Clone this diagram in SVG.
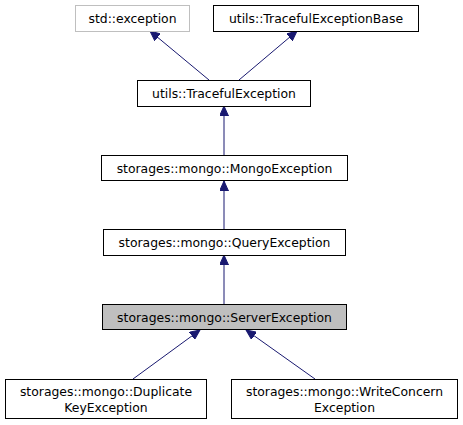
<svg xmlns="http://www.w3.org/2000/svg" width="463" height="425" viewBox="0 0 463 425">
<style>
.n rect{fill:#fff;stroke:#000;stroke-width:1}
.g rect{stroke:#bfbfbf}
.h rect{fill:#bfbfbf}
text{font-family:"DejaVu Sans",sans-serif;font-size:12.4px;text-anchor:middle;fill:#000}
.e path{fill:none;stroke:#191970;stroke-width:1;marker-end:url(#a)}
</style>
<defs>
<marker id="a" markerUnits="userSpaceOnUse" markerWidth="11" markerHeight="9" refX="10" refY="4.5" orient="auto">
<path d="M0,0 L10,4.5 L0,9 z" fill="#191970" stroke="#191970" stroke-width="1"/>
</marker>
</defs>
<rect width="463" height="425" fill="#fff"/>
<g class="e">
<path d="M209,80 L150,31"/>
<path d="M239,80 L297,31"/>
<path d="M224,155 L224,106"/>
<path d="M224,229 L224,181"/>
<path d="M224,304 L224,255"/>
<path d="M133,379 L200,330"/>
<path d="M315,379 L246,330"/>
</g>
<g id="std_exception" class="n g"><rect x="75.5" y="5.5" width="114" height="26"/><text x="132.5" y="22.5">std::exception</text></g>
<g id="TracefulExceptionBase" class="n"><rect x="213.5" y="5.5" width="205" height="26"/><text x="316" y="22.5">utils::TracefulExceptionBase</text></g>
<g id="TracefulException" class="n"><rect x="137.5" y="80.5" width="173" height="26"/><text x="224" y="97.5">utils::TracefulException</text></g>
<g id="MongoException" class="n"><rect x="101.5" y="155.5" width="246" height="25"/><text x="224.5" y="172.5">storages::mongo::MongoException</text></g>
<g id="QueryException" class="n"><rect x="103.5" y="229.5" width="242" height="26"/><text x="224.5" y="246.5">storages::mongo::QueryException</text></g>
<g id="ServerException" class="n h"><rect x="102.5" y="304.5" width="244" height="25"/><text x="224.5" y="321.5">storages::mongo::ServerException</text></g>
<g id="DuplicateKeyException" class="n"><rect x="5.5" y="379.5" width="201" height="39"/><text x="106" y="395.5">storages::mongo::Duplicate</text><text x="106" y="411.5">KeyException</text></g>
<g id="WriteConcernException" class="n"><rect x="231.5" y="379.5" width="226" height="39"/><text x="344.5" y="395.5">storages::mongo::WriteConcern</text><text x="344.5" y="411.5">Exception</text></g>
</svg>
